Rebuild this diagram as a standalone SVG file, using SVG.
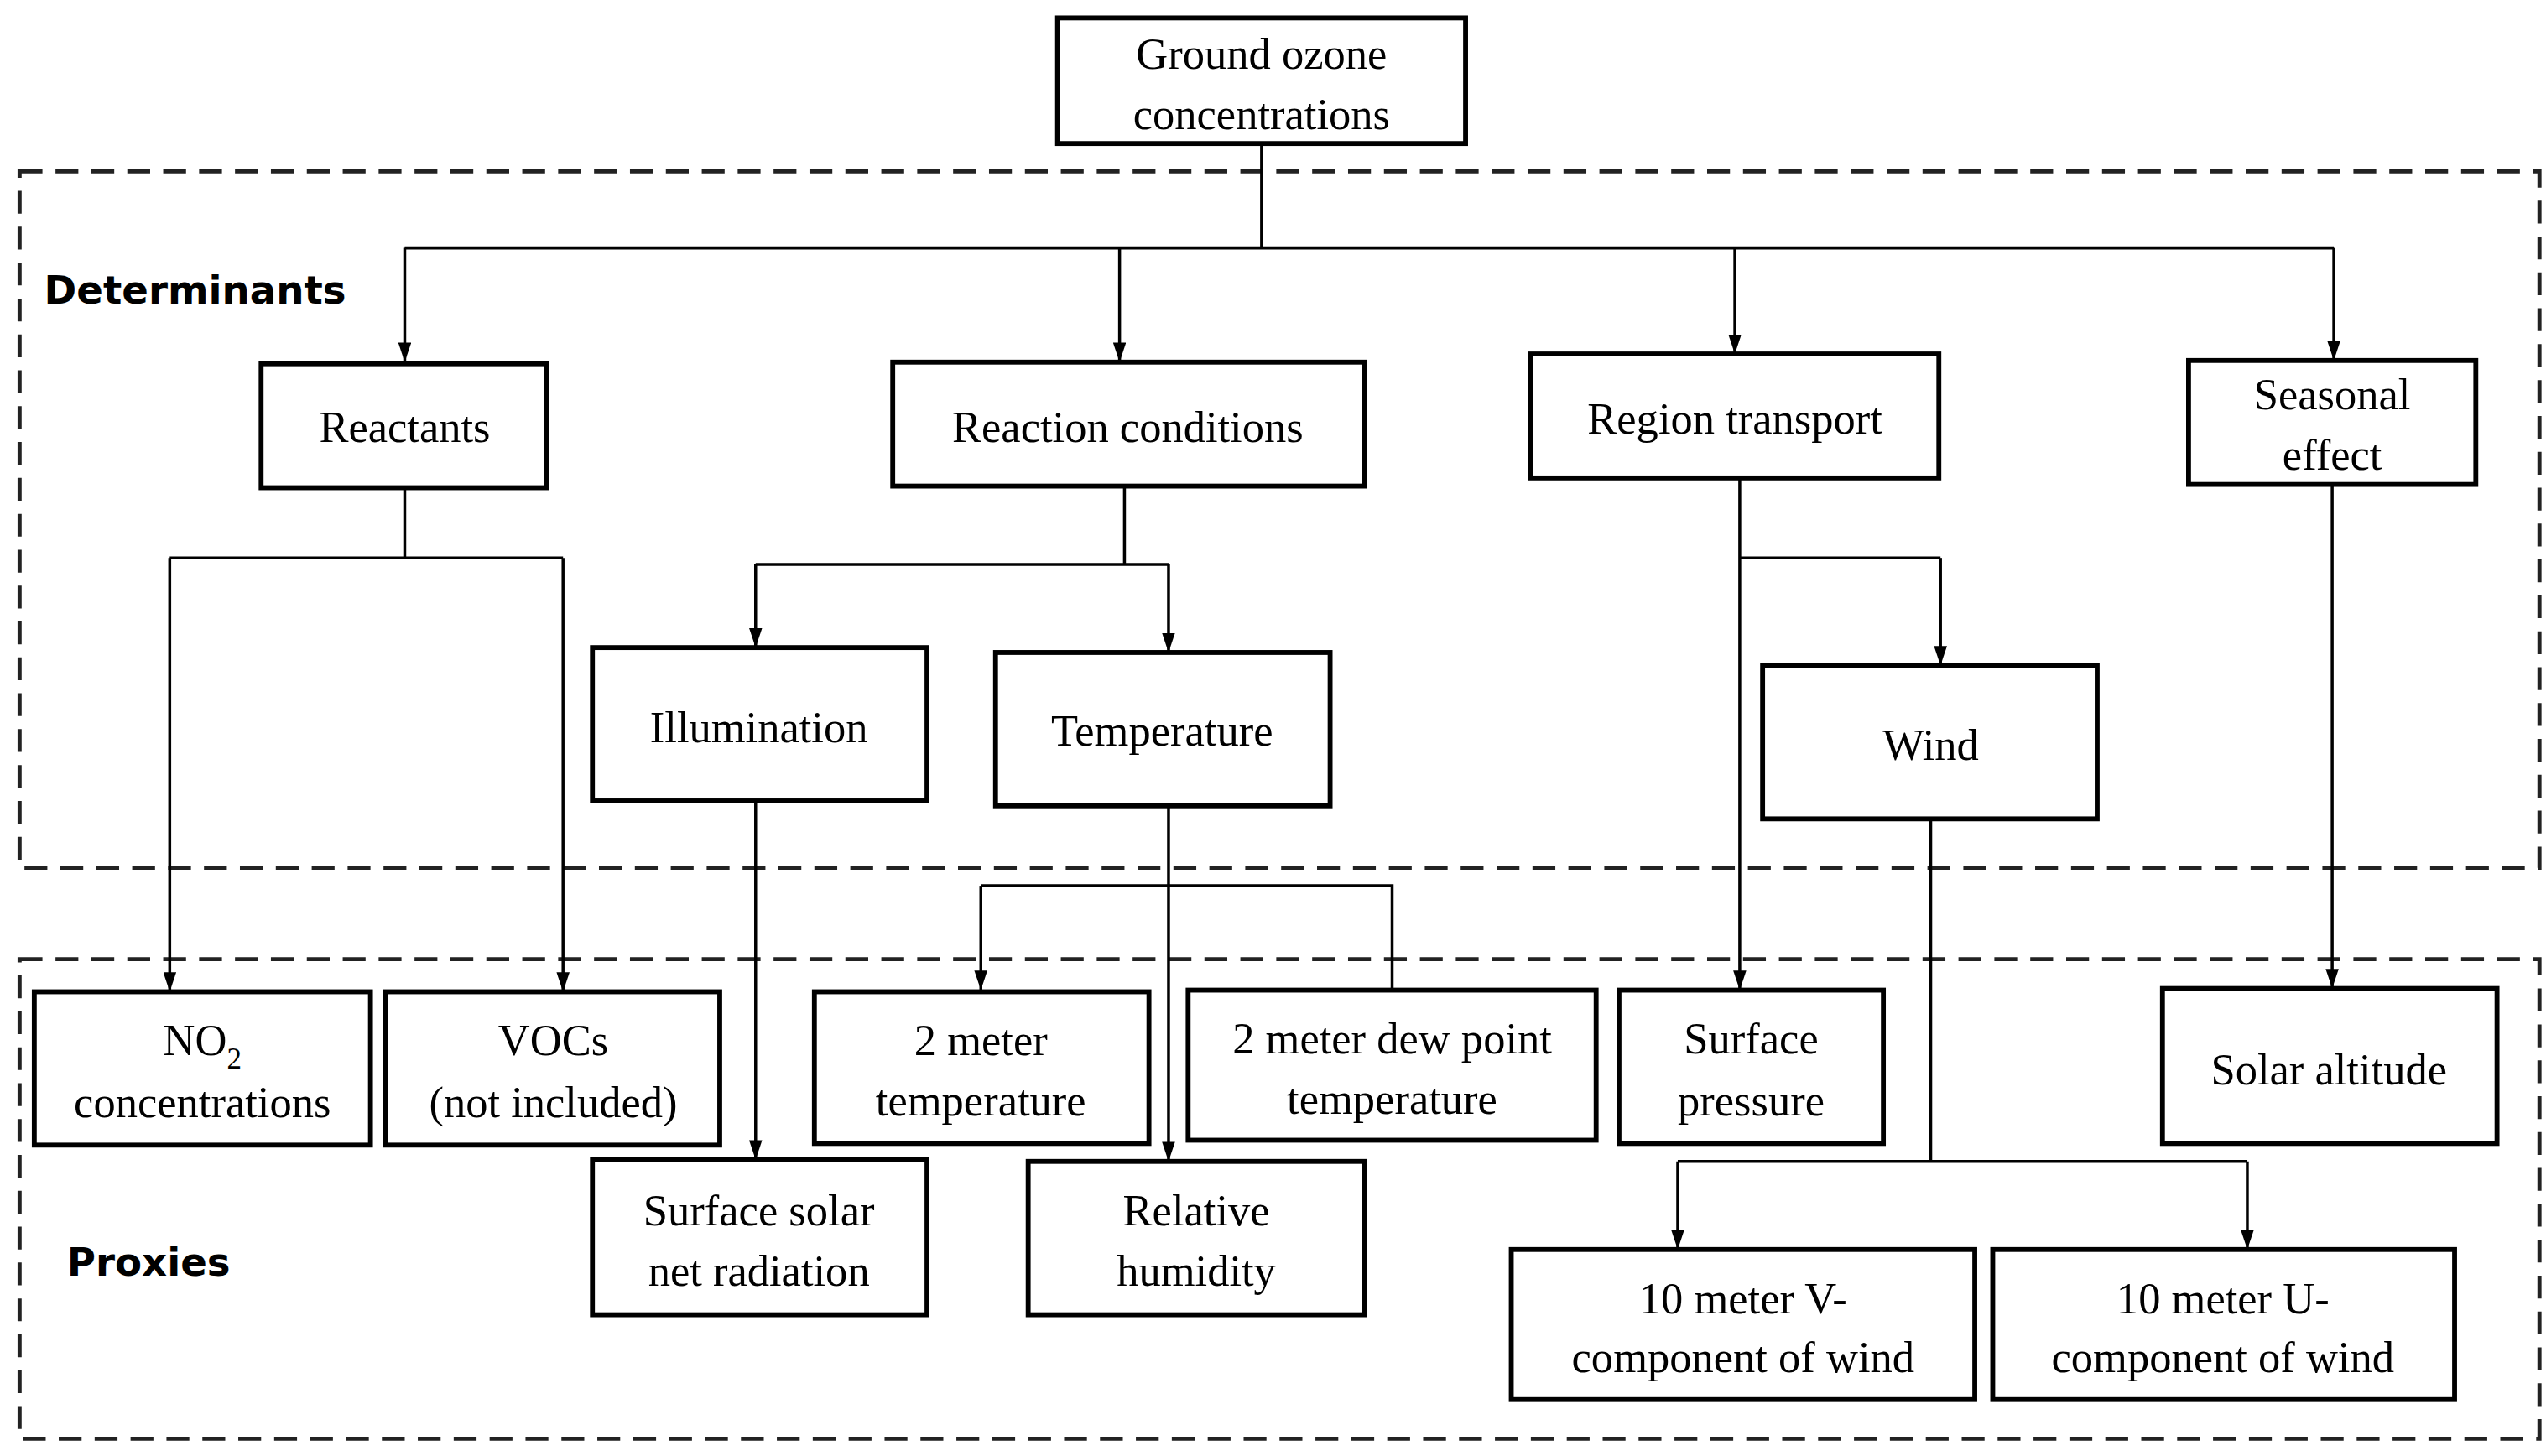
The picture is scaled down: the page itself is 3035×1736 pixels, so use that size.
<svg xmlns="http://www.w3.org/2000/svg" width="3035" height="1736" viewBox="0 0 3035 1736">
<style>
.b{fill:#fff;stroke:#000;stroke-width:3}
.t{font-family:"Liberation Serif",serif;font-size:27px;text-anchor:middle;fill:#000}
.l{font-family:"DejaVu Sans",sans-serif;font-weight:bold;font-size:24px;fill:#000}
.c{fill:none;stroke:#000;stroke-width:1.8}
.d{fill:none;stroke:#222;stroke-width:2.5;stroke-dasharray:14,8}
</style>
<defs><marker id="a" markerUnits="userSpaceOnUse" markerWidth="10" markerHeight="12" viewBox="0 0 10 12" refX="5" refY="12" orient="auto-start-reverse"><path d="M0,0 L10,0 L5,12 Z" transform="rotate(0)" fill="#000"/></marker>
<marker id="v" markerUnits="userSpaceOnUse" markerWidth="8" markerHeight="12" viewBox="0 0 8 12" refX="4" refY="12" orient="0"><path d="M0,0 L8,0 L4,12 Z" fill="#000"/></marker></defs>
<rect width="3035" height="1736" fill="#fff"/>
<g transform="scale(1.9455,1.9449)">
<g id="groups">
<rect class="d" x="12" y="105" width="1544" height="427"/>
<rect class="d" x="12" y="588" width="1544" height="294"/>
<text class="l" x="27" y="186">Determinants</text>
<text class="l" x="41" y="782">Proxies</text>
</g>
<g id="connectors">
<path class="c" d="M773,88 V152 M248,152 H1430"/>
<path class="c" marker-end="url(#v)" d="M248,152 V222"/>
<path class="c" marker-end="url(#v)" d="M686,152 V222"/>
<path class="c" marker-end="url(#v)" d="M1063,152 V217"/>
<path class="c" marker-end="url(#v)" d="M1430,152 V221"/>
<path class="c" d="M248,299 V342 M104,342 H345"/>
<path class="c" marker-end="url(#v)" d="M104,342 V608"/>
<path class="c" marker-end="url(#v)" d="M345,342 V608"/>
<path class="c" d="M689,298 V346 M463,346 H716"/>
<path class="c" marker-end="url(#v)" d="M463,346 V397"/>
<path class="c" marker-end="url(#v)" d="M716,346 V400"/>
<path class="c" marker-end="url(#v)" d="M463,491 V711"/>
<path class="c" marker-end="url(#v)" d="M716,494 V712"/>
<path class="c" d="M601,543 H853 V607"/>
<path class="c" marker-end="url(#v)" d="M601,543 V607"/>
<path class="c" marker-end="url(#v)" d="M1066,293 V607"/>
<path class="c" d="M1066,342 H1189"/>
<path class="c" marker-end="url(#v)" d="M1189,342 V408"/>
<path class="c" d="M1183,502 V712 M1028,712 H1377"/>
<path class="c" marker-end="url(#v)" d="M1028,712 V766"/>
<path class="c" marker-end="url(#v)" d="M1377,712 V766"/>
<path class="c" marker-end="url(#v)" d="M1429,297 V606"/>
</g>
<g id="ground"><rect class="b" x="648" y="11" width="250" height="77"/><text class="t" x="773" y="42">Ground ozone</text><text class="t" x="773" y="79">concentrations</text></g>
<g id="reactants"><rect class="b" x="160" y="223" width="175" height="76"/><text class="t" x="248" y="271">Reactants</text></g>
<g id="reaction"><rect class="b" x="547" y="222" width="289" height="76"/><text class="t" x="691" y="271">Reaction conditions</text></g>
<g id="region"><rect class="b" x="938" y="217" width="250" height="76"/><text class="t" x="1063" y="266">Region transport</text></g>
<g id="seasonal"><rect class="b" x="1341" y="221" width="176" height="76"/><text class="t" x="1429" y="251">Seasonal</text><text class="t" x="1429" y="288">effect</text></g>
<g id="illum"><rect class="b" x="363" y="397" width="205" height="94"/><text class="t" x="465" y="455">Illumination</text></g>
<g id="temp"><rect class="b" x="610" y="400" width="205" height="94"/><text class="t" x="712" y="457">Temperature</text></g>
<g id="wind"><rect class="b" x="1080" y="408" width="205" height="94"/><text class="t" x="1183" y="466">Wind</text></g>
<g id="no2"><rect class="b" x="21" y="608" width="206" height="94"/><text class="t" x="124" y="647">NO<tspan font-size="18" dy="8">2</tspan></text><text class="t" x="124" y="685">concentrations</text></g>
<g id="vocs"><rect class="b" x="236" y="608" width="205" height="94"/><text class="t" x="339" y="647">VOCs</text><text class="t" x="339" y="685">(not included)</text></g>
<g id="t2m"><rect class="b" x="499" y="608" width="205" height="93"/><text class="t" x="601" y="647">2 meter</text><text class="t" x="601" y="684">temperature</text></g>
<g id="dew"><rect class="b" x="728" y="607" width="250" height="92"/><text class="t" x="853" y="646">2 meter dew point</text><text class="t" x="853" y="683">temperature</text></g>
<g id="sp"><rect class="b" x="992" y="607" width="162" height="94"/><text class="t" x="1073" y="646">Surface</text><text class="t" x="1073" y="684">pressure</text></g>
<g id="solar"><rect class="b" x="1325" y="606" width="205" height="95"/><text class="t" x="1427" y="665">Solar altitude</text></g>
<g id="ssr"><rect class="b" x="363" y="711" width="205" height="95"/><text class="t" x="465" y="751">Surface solar</text><text class="t" x="465" y="788">net radiation</text></g>
<g id="rh"><rect class="b" x="630" y="712" width="206" height="94"/><text class="t" x="733" y="751">Relative</text><text class="t" x="733" y="788">humidity</text></g>
<g id="v10"><rect class="b" x="926" y="766" width="284" height="92"/><text class="t" x="1068" y="805">10 meter V-</text><text class="t" x="1068" y="841">component of wind</text></g>
<g id="u10"><rect class="b" x="1221" y="766" width="283" height="92"/><text class="t" x="1362" y="805">10 meter U-</text><text class="t" x="1362" y="841">component of wind</text></g>
</g>
</svg>
